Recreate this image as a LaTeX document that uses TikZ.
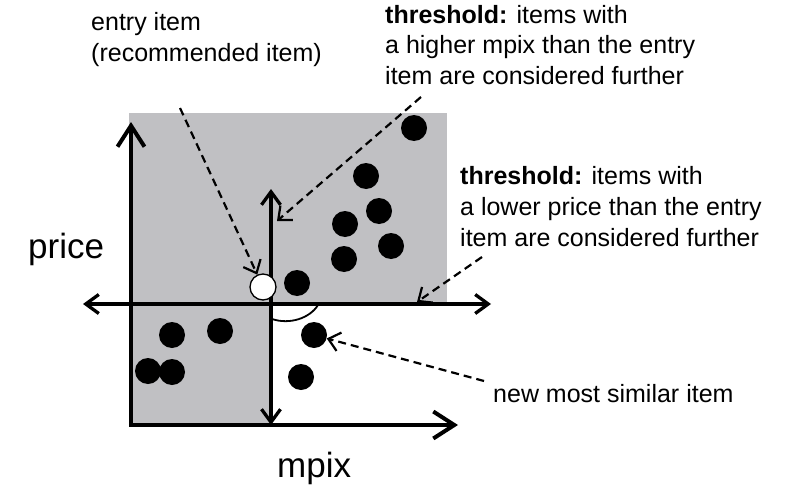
\documentclass[tikz,border=0pt]{standalone}
\usepackage{fontspec}
\setmainfont{Liberation Sans}
\usetikzlibrary{arrows.meta}
\definecolor{bgshade}{RGB}{192,192,195}
\tikzset{
  dot/.style={circle,fill=black,draw=none,minimum size=26pt,inner sep=0pt},
  entrydot/.style={circle,fill=white,draw=black,line width=1.3pt,minimum size=26pt,inner sep=0pt},
  mainaxis/.style={line width=4pt,{Straight Barb[length=21pt,width=27pt]}-{Straight Barb[length=21pt,width=27pt]}},
  inneraxis/.style={line width=3.3pt,{Straight Barb[length=13pt,width=19pt]}-{Straight Barb[length=13pt,width=19pt]}},
  pointer/.style={line width=2.2pt,dash pattern=on 8pt off 5pt,-{Straight Barb[length=11pt,width=19pt,line width=2.2pt]}},
  label/.style={anchor=base west,inner sep=0pt,align=left,font=\fontsize{25}{31}\selectfont},
  axlabel/.style={anchor=base west,inner sep=0pt,font=\fontsize{35}{40}\selectfont}
}
\begin{document}
\begin{tikzpicture}[x=1pt,y=-1pt]
\useasboundingbox (0,0) rectangle (786,484);
% shaded regions
\fill[bgshade] (129,113) rectangle (447,304);
\fill[bgshade] (129,304) rectangle (271,425);
% axes coordinates
\coordinate (ytop) at (131,122);
\coordinate (origin) at (131,425);
\coordinate (xright) at (458,425);
\coordinate (hleft) at (83,304);
\coordinate (hright) at (491,304);
\coordinate (vtop) at (271,189);
\coordinate (vbot) at (271,425);
% main axes
\draw[mainaxis] (ytop) -- (origin) -- (xright);
% threshold axes
\draw[inneraxis] (hleft) -- (hright);
\draw[inneraxis] (vtop) -- (vbot);
% angle arc
\coordinate (arcA) at (272,319);
\coordinate (arcB) at (318,305);
\draw[line width=1.8pt] (arcA) .. controls (290,325) and (310,318) .. (arcB);
% dots
\node[dot] (d1) at (414,128) {};
\node[dot] (d2) at (366,176) {};
\node[dot] (d3) at (379,211) {};
\node[dot] (d4) at (345,224) {};
\node[dot] (d5) at (391,246) {};
\node[dot] (d6) at (344,259) {};
\node[dot] (d7) at (297,283) {};
\node[dot] (d8) at (172,335) {};
\node[dot] (d9) at (220,331) {};
\node[dot] (d10) at (148,371) {};
\node[dot] (d11) at (172,372) {};
\node[dot] (d12) at (314,335) {};
\node[dot] (d13) at (301,377) {};
\node[entrydot] (entry) at (263,287) {};
% texts (base anchor = baseline of last line)
\node[label] (tentry) at (91,62) {entry item\\(recommended item)};
\node[label] (tthr1) at (385,85) {\textbf{threshold:} items with\\a higher mpix than the entry\\item are considered further};
\node[label] (tthr2) at (460,246) {\textbf{threshold:} items with\\a lower price than the entry\\item are considered further};
\node[label] (tnew) at (493,402) {new most similar item};
\node[axlabel] (tprice) at (28,258) {price};
\node[axlabel] (tmpix) at (277,477) {mpix};
% pointers
\coordinate (p1) at (180,108);
\coordinate (p2) at (421,97);
\coordinate (p2tip) at (277,221);
\coordinate (p3) at (482,257);
\coordinate (p3tip) at (417,302);
\coordinate (p4) at (484,381);
\draw[pointer] (p1) -- (entry);
\draw[pointer] (p2) -- (p2tip);
\draw[pointer] (p3) -- (p3tip);
\draw[pointer] (p4) -- (d12);
\end{tikzpicture}
\end{document}
